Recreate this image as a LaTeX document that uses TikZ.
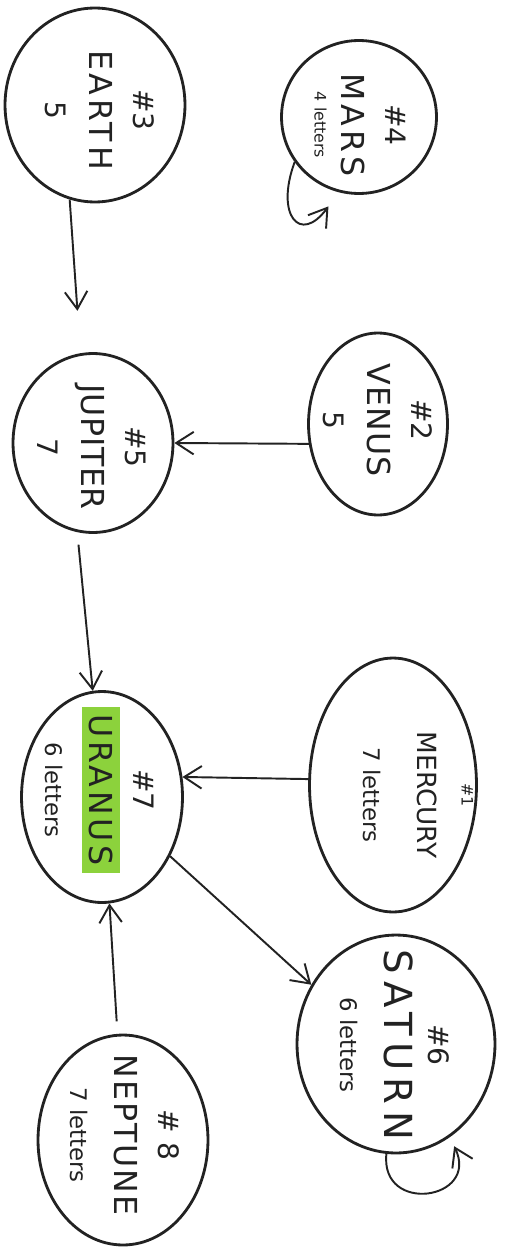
\documentclass[tikz,border=0pt]{standalone}
\usepackage{fontspec}
\setmainfont{DejaVu Sans}
\usetikzlibrary{arrows.meta,shapes.geometric}
\definecolor{ink}{HTML}{222222}
\definecolor{marker}{HTML}{8CD23C}
\newcommand{\pname}[1][12]{\fontsize{18}{24}\selectfont\addfontfeature{LetterSpace=#1}}
\newcommand{\letters}{\fontsize{13}{20}\selectfont}
\tikzset{
  every node/.style={font=\fontsize{16}{25}\selectfont, text=ink},
  planet/.style={
    ellipse, draw=ink, line width=1.6pt, inner sep=0pt
  },
  tag/.style={
    rotate=-90, align=center, inner sep=0pt
  },
  link/.style={
    -{Straight Barb[length=3.5mm,width=4.5mm]},
    line width=1.1pt, draw=ink
  },
}
\begin{document}
\begin{tikzpicture}[x=0.02cm, y=-0.02cm]
  \useasboundingbox (0,0) rectangle (509,1247);
  % left column
  \node[planet, minimum width=3.6cm, minimum height=3.88cm] (earth) at (95,105) {};
  \node[tag] (earth-t) at (100,110) {\#3\\{\pname EARTH}\\5};
  \node[planet, minimum width=3.2cm, minimum height=3.58cm] (jupiter) at (93,443) {};
  \node[tag] (jupiter-t) at (92,447) {\#5\\{\pname[2] JUPITER}\\7};
  \node[planet, minimum width=3.22cm, minimum height=4.22cm] (uranus) at (102,797) {};
  \node[tag] (uranus-t) at (100,790) {\#7\\{\pname\setlength{\fboxsep}{4pt}\colorbox{marker}{URANUS}}\\{\letters 6 letters}};
  \node[planet, minimum width=3.4cm, minimum height=4.2cm] (neptune) at (123,1140) {};
  \node[tag] (neptune-t) at (125,1135) {\# 8\\{\pname[6] NEPTUNE}\\{\letters 7 letters}};
  % right column
  \node[planet, minimum width=3.1cm, minimum height=3.06cm] (mars) at (359,117) {};
  \node[tag] (mars-t) at (360,125) {\#4\\{\pname MARS}\\[-10pt]{\fontsize{9}{10}\selectfont 4 letters}};
  \node[planet, minimum width=2.78cm, minimum height=3.64cm] (venus) at (378,424) {};
  \node[tag] (venus-t) at (378,420) {\#2\\{\pname[4] VENUS}\\5};
  \node[planet, minimum width=3.34cm, minimum height=5.08cm] (mercury) at (393,785) {};
  \node[tag] (mercury-t) at (418,795) {{\small\#1}\\{\fontsize{15}{20}\selectfont MERCURY}\\[6pt]{\letters 7 letters}};
  \node[planet, minimum width=3.96cm, minimum height=4.36cm] (saturn) at (396,1044) {};
  \node[tag] (saturn-t) at (395,1045) {\#6\\{\fontsize{22}{26}\selectfont\addfontfeature{LetterSpace=18}SATURN}\\{\letters 6 letters}};
  % connectors
  \draw[link, shorten >=0.85cm] (earth.255) -- (jupiter.98);
  \draw[link] (venus.196) -- (jupiter.east);
  \draw[link, shorten <=0.25cm] (jupiter.260) -- (uranus.95);
  \draw[link] (mercury.176) -- (uranus.14);
  \draw[link] (uranus.319) -- (saturn.145);
  \draw[link, shorten <=0.25cm] (neptune.93) -- (uranus.274);
  % self loops
  \draw[link, shorten >=0.35cm] (mars.215) .. controls (275,215) and (300,245) .. (mars.255);
  \draw[link, shorten >=0.2cm] (saturn.265) .. controls (380,1215) and (480,1200) .. (saturn.300);
\end{tikzpicture}
\end{document}
